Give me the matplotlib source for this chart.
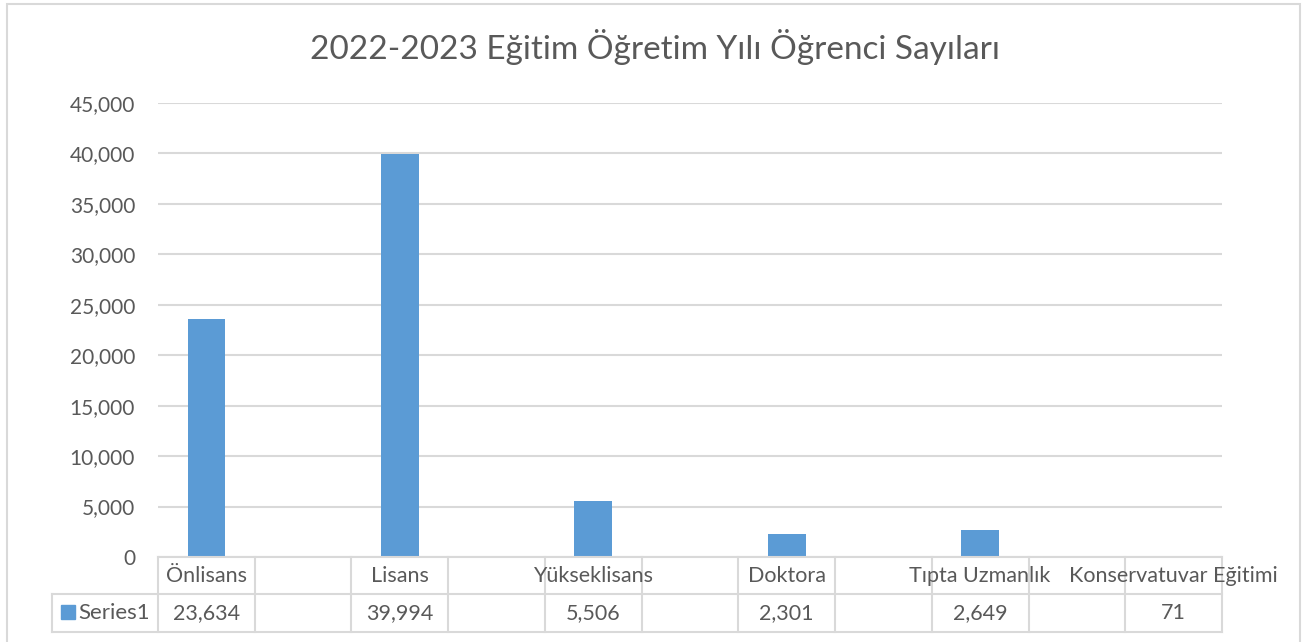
import matplotlib
matplotlib.use("Agg")
import matplotlib.pyplot as plt
import matplotlib.transforms as mtransforms
from matplotlib.patches import Rectangle

# ---- data ----
categories = ["Önlisans", "", "Lisans", "", "Yükseklisans", "", "Doktora", "",
              "Tıpta Uzmanlık", "", "Konservatuvar Eğitimi"]
values = [23634, None, 39994, None, 5506, None, 2301, None, 2649, None, 71]
series_name = "Series1"
title = "2022-2023 Eğitim Öğretim Yılı Öğrenci Sayıları"
yticks = [0, 5000, 10000, 15000, 20000, 25000, 30000, 35000, 40000, 45000]

BAR = "#5B9BD5"
GRID = "#D9D9D9"
TXT = "#595959"
FONT = ["Lato", "DejaVu Sans"]
plt.rcParams["font.family"] = FONT

W, H = 1309, 642
fig = plt.figure(figsize=(W / 100, H / 100), dpi=100)

def fx(px):
    return px / W

def fy(py):
    return 1 - py / H

# chart border
fig.patches.append(Rectangle((fx(7), fy(700)), fx(1300) - fx(7), fy(4) - fy(700),
                             transform=fig.transFigure, fill=False,
                             edgecolor=GRID, linewidth=1.5))

left, right, top, bottom = 158, 1222, 103, 557
ax = fig.add_axes([fx(left), fy(bottom), fx(right) - fx(left), fy(top) - fy(bottom)])

xs = list(range(len(categories)))
bx = [x for x, v in zip(xs, values) if v is not None]
bv = [v for v in values if v is not None]
ax.bar(bx, bv, width=0.39, color=BAR, zorder=3)

ax.set_xlim(-0.5, len(categories) - 0.5)
ax.set_ylim(0, 45000)
ax.set_yticks(yticks)
ax.set_yticklabels([f"{t:,}" for t in yticks])
ax.tick_params(axis="y", length=0, pad=16.5, labelsize=15, labelcolor=TXT)
ax.set_xticks([])
ax.grid(axis="y", color=GRID, linewidth=1.5, zorder=0)
for s in ["top", "right", "left"]:
    ax.spines[s].set_visible(False)
ax.spines["bottom"].set_color(GRID)
ax.spines["bottom"].set_linewidth(1.5)
ax.spines["bottom"].set_zorder(4)

fig.text(0.5, fy(47), title, ha="center", va="center", fontsize=24, color=TXT)

# ---- data table ----
tr = mtransforms.blended_transform_factory(ax.transData, fig.transFigure)
row1_top, row_mid, row2_bot = 557, 594, 632
lw = 1.5
n = len(categories)
for i in range(n + 1):
    xv = i - 0.5
    ax.plot([xv, xv], [fy(row1_top), fy(row2_bot)], transform=tr, color=GRID,
            lw=lw, clip_on=False, zorder=1)
for yy in (row_mid, row2_bot):
    fig.add_artist(plt.Line2D([fx(52), fx(right)], [fy(yy), fy(yy)],
                              transform=fig.transFigure, color=GRID, lw=lw))
fig.add_artist(plt.Line2D([fx(52), fx(52)], [fy(row_mid), fy(row2_bot)],
                          transform=fig.transFigure, color=GRID, lw=lw))

y1 = fy((row1_top + row_mid) / 2)
y2 = fy((row_mid + row2_bot) / 2)
for x, c, v in zip(xs, categories, values):
    if c:
        ax.text(x, y1, c, transform=tr, ha="center", va="center", fontsize=15.5,
                color=TXT, clip_on=False)
    if v is not None:
        ax.text(x, y2, f"{v:,}", transform=tr, ha="center", va="center",
                fontsize=15.5, color=TXT, clip_on=False)

fig.patches.append(Rectangle((fx(61), fy(619)), fx(75) - fx(61), fy(605) - fy(619),
                             transform=fig.transFigure, color=BAR))
fig.text(fx(78), y2, series_name, ha="left", va="center", fontsize=16, color=TXT)

fig.savefig("out.png", dpi=100)
